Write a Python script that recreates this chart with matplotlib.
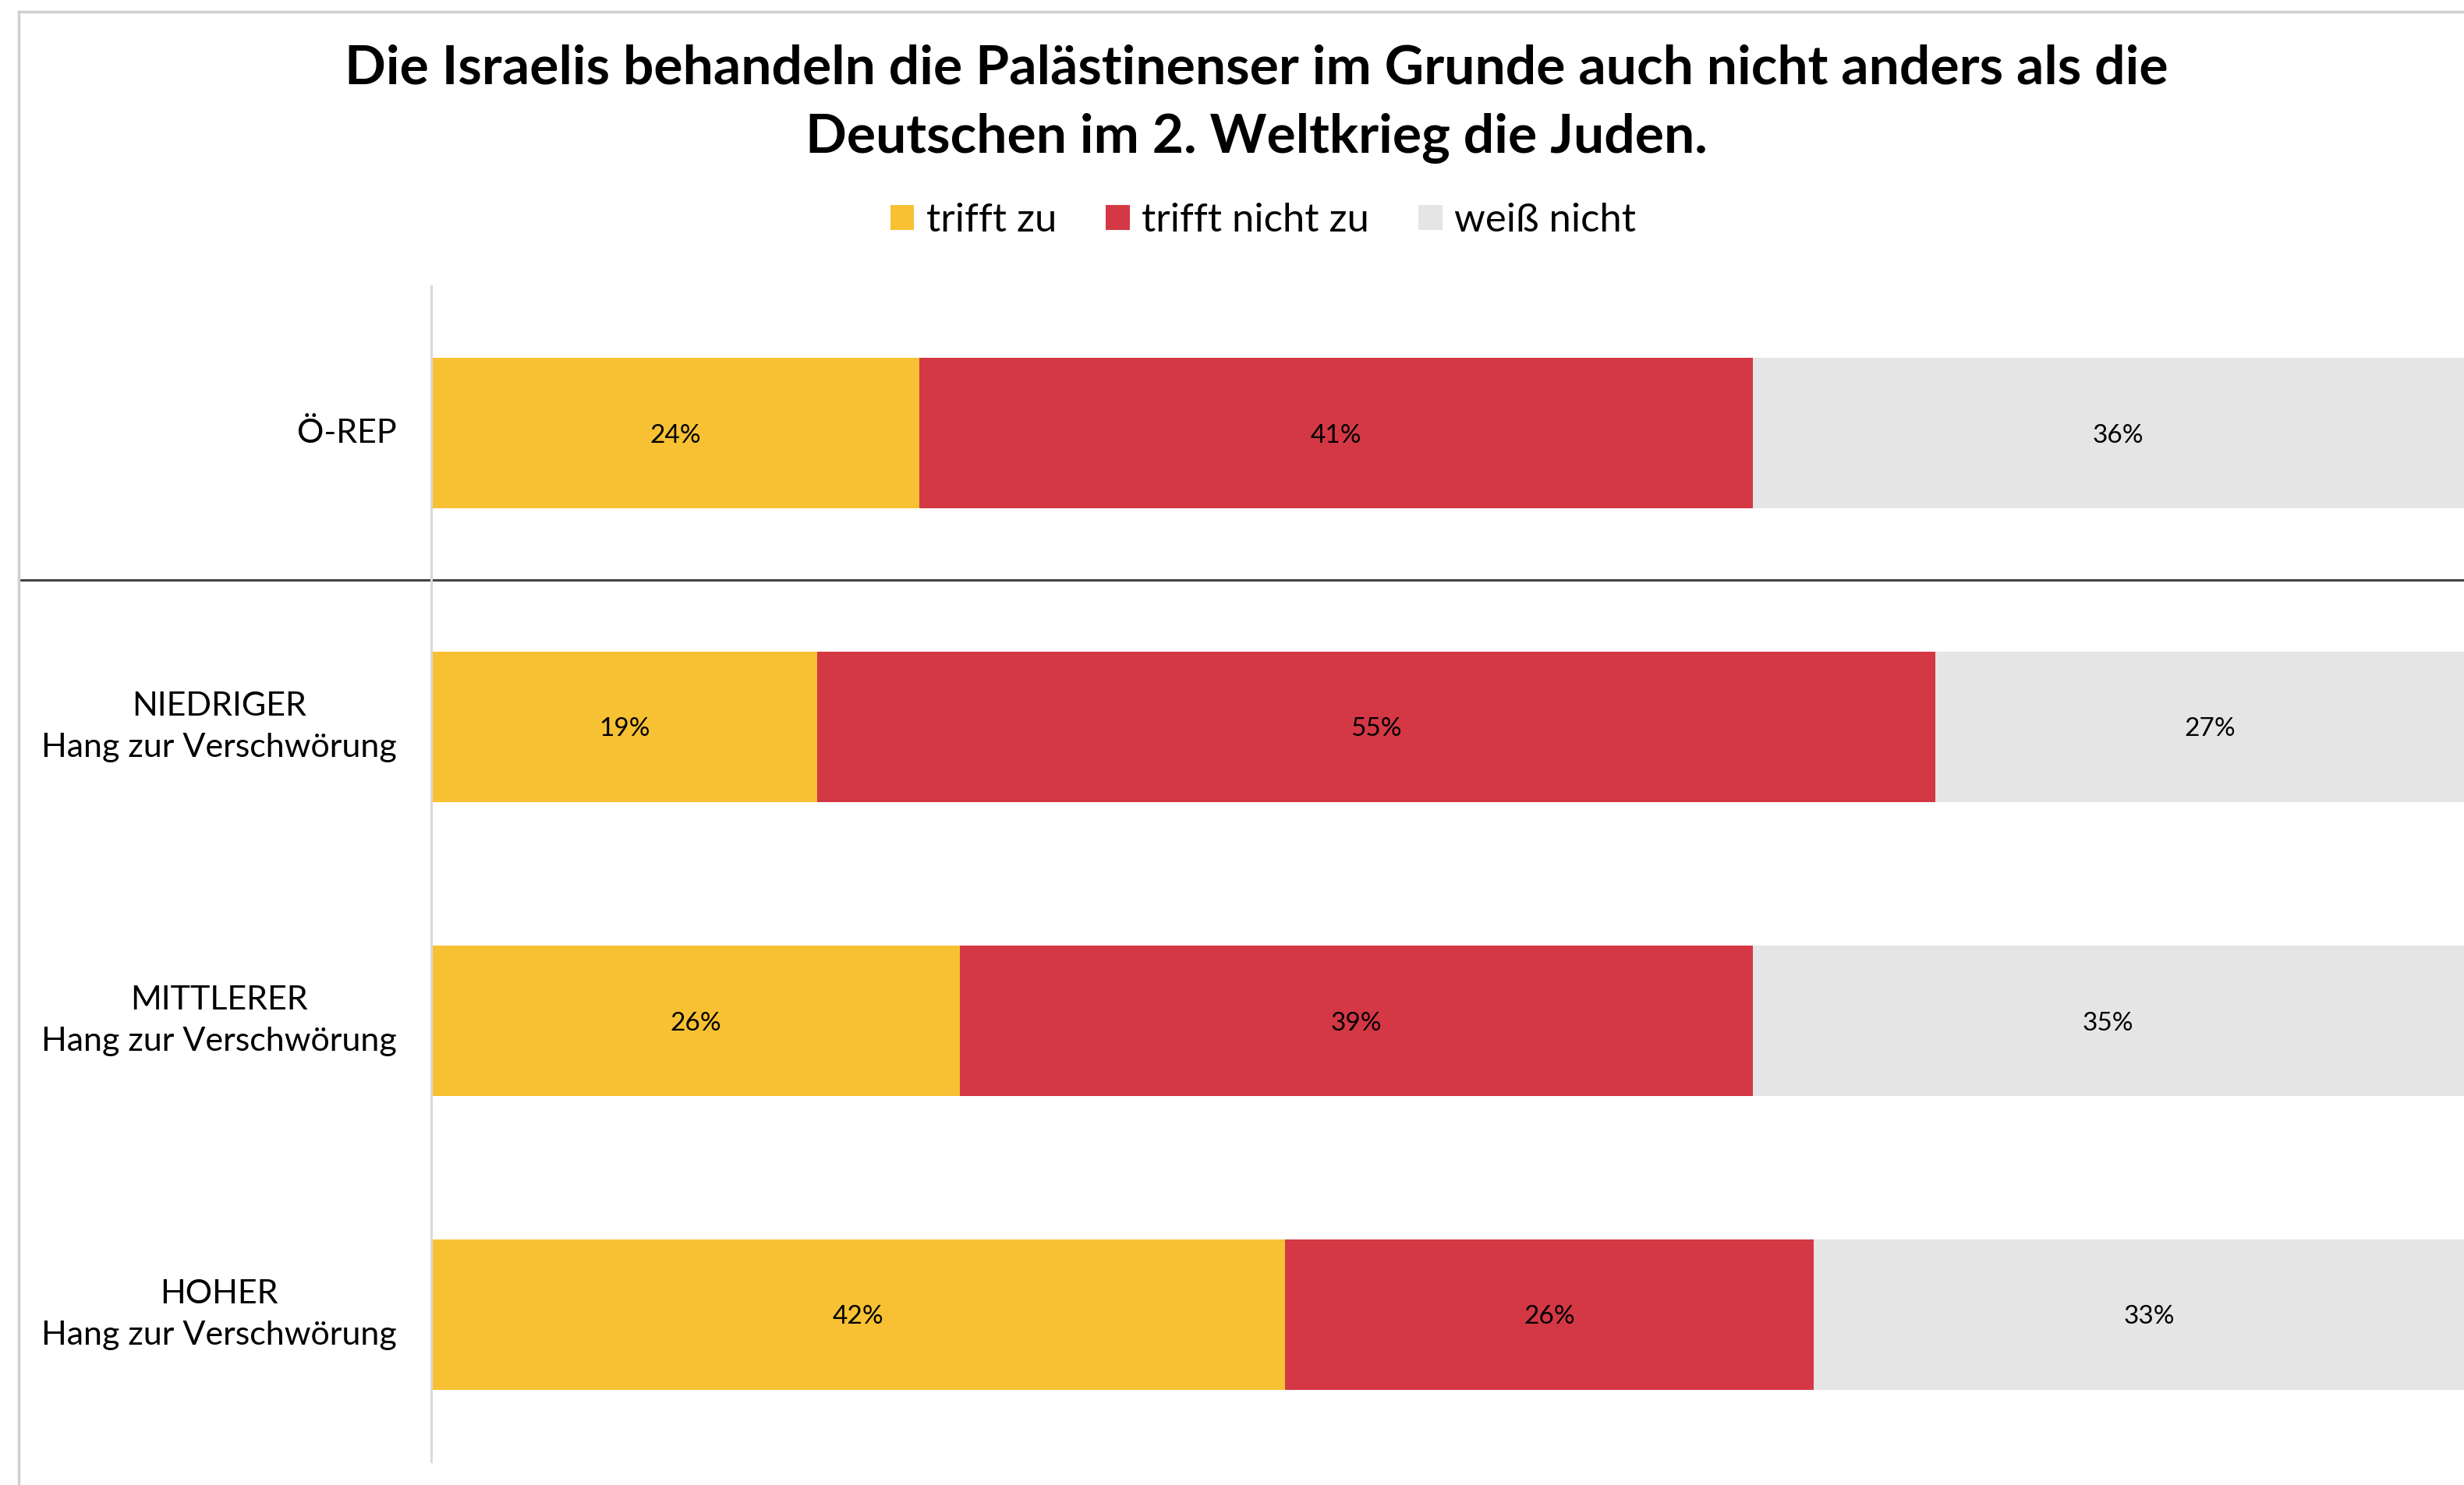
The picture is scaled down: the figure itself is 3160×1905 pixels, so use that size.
import matplotlib
matplotlib.use("Agg")
import matplotlib.pyplot as plt
from matplotlib.lines import Line2D
from matplotlib.patches import Patch
import matplotlib.transforms as mtransforms
import numpy as np

plt.rcParams['font.family'] = ['Lato', 'DejaVu Sans']

categories = ["Ö-REP", "NIEDRIGER\nHang zur Verschwörung",
              "MITTLERER\nHang zur Verschwörung", "HOHER\nHang zur Verschwörung"]
series_names = ["trifft zu", "trifft nicht zu", "weiß nicht"]
trifft_zu = [24, 19, 26, 42]
trifft_nicht_zu = [41, 55, 39, 26]
weiss_nicht = [36, 27, 35, 33]
colors = ["#F7C133", "#D43845", "#E5E5E5"]
title = ("Die Israelis behandeln die Palästinenser im Grunde auch nicht anders als die\n"
         "Deutschen im 2. Weltkrieg die Juden.")

W, H = 3160, 1905
fig = plt.figure(figsize=(W / 100, H / 100), dpi=100)
ax = fig.add_axes([553 / W, 30 / H, 1 - 553 / W, (1875 - 367) / H])

y = np.arange(len(categories))
left = np.zeros(len(categories))
for vals, col in zip([trifft_zu, trifft_nicht_zu, weiss_nicht], colors):
    vals = np.array(vals, dtype=float)
    ax.barh(y, vals, left=left, height=0.51, color=col, edgecolor='none')
    for yi, l, v in zip(y, left, vals):
        ax.text(l + v / 2, yi, f"{int(v)}%", ha='center', va='center_baseline',
                fontsize=24, color='black')
    left += vals

ax.set_xlim(0, 100)
ax.set_ylim(3.5, -0.5)
ax.set_yticks(y)
ax.set_yticklabels(categories, fontsize=31, multialignment='center', linespacing=1.5,
                   va='center')
ax.tick_params(axis='y', length=0, pad=32)
ax.set_xticks([])
for s in ['top', 'right', 'bottom']:
    ax.spines[s].set_visible(False)
ax.spines['left'].set_color('#D9D9D9')
ax.spines['left'].set_linewidth(2.2)

# separator between total and groups
trans = mtransforms.blended_transform_factory(fig.transFigure, ax.transData)
ax.add_line(Line2D([24 / W, 1.0], [0.5, 0.5], transform=trans, color='#444444',
                   linewidth=2.2, clip_on=False))

# outer frame (top and left)
fig.add_artist(Line2D([24 / W, 1.0], [1 - 15 / H, 1 - 15 / H], transform=fig.transFigure,
                      color='#CFCFCF', linewidth=2.5))
fig.add_artist(Line2D([24 / W, 24 / W], [0, 1 - 15 / H], transform=fig.transFigure,
                      color='#CFCFCF', linewidth=2.5))

fig.text(0.51, 1 - 133 / H, title, ha='center', va='center', fontsize=50,
         fontweight='bold', linespacing=1.5)

handles = [Patch(facecolor=c, edgecolor='none') for c in colors]
fig.legend(handles, series_names, loc='center', bbox_to_anchor=(1620 / W, 1 - 283 / H),
           ncol=3, frameon=False, fontsize=36.5, handlelength=0.6, handleheight=0.6,
           handletextpad=0.3, columnspacing=1.25)

fig.savefig("out.png", dpi=100, facecolor='white')
